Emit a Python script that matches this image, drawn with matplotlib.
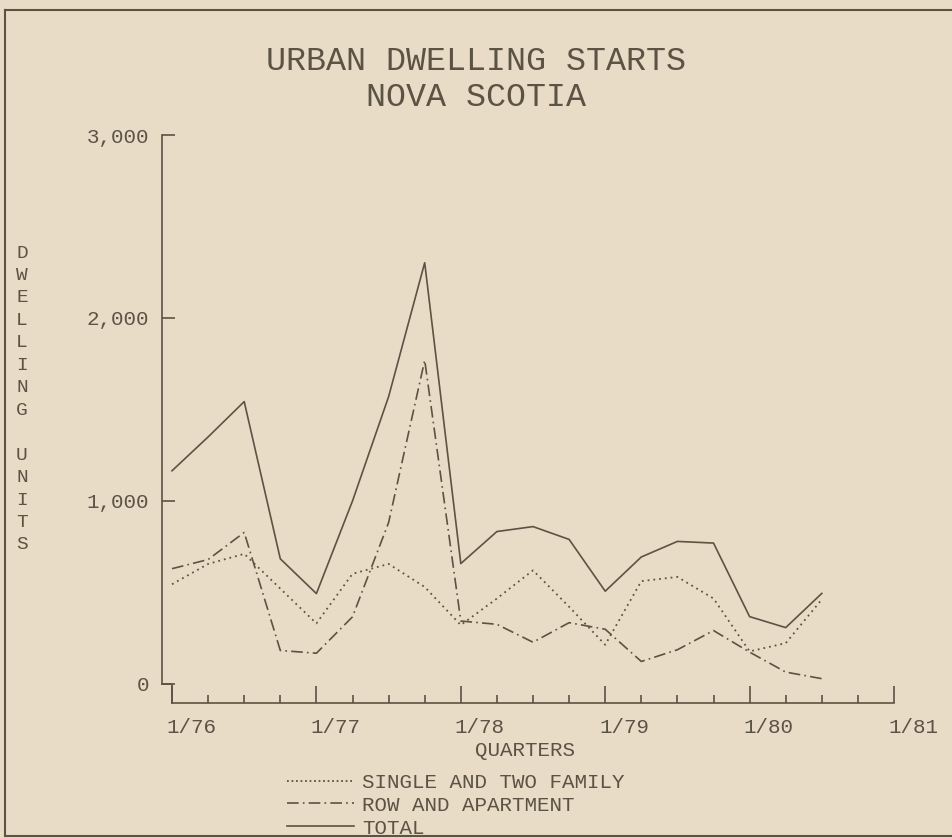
import matplotlib.pyplot as plt
from matplotlib.ticker import FixedLocator, MultipleLocator
from matplotlib.lines import Line2D
from matplotlib.transforms import ScaledTranslation

# Urban dwelling starts, Nova Scotia, quarterly 1/76 .. 7/80
quarters = list(range(19))
single = [545, 656, 711, 521, 331, 602, 656, 530, 322, 467, 621, 422, 214, 562, 585, 467, 178, 223, 462]
row_apt = [630, 680, 828, 183, 168, 367, 882, 1769, 344, 326, 228, 335, 299, 123, 187, 292, 174, 65, 29]
total = [1165, 1350, 1543, 684, 494, 1000, 1570, 2302, 658, 833, 860, 790, 507, 694, 779, 770, 368, 308, 495]

year_ticks = [0, 4, 8, 12, 16, 20]
year_labels = ["1/76", "1/77", "1/78", "1/79", "1/80", "1/81"]
y_ticks = [0, 1000, 2000, 3000]
y_labels = ["0", "1,000", "2,000", "3,000"]

ink = "#5b5343"
paper = "#e9dcc6"
font = "Liberation Mono"

W, H = 953, 838
fig = plt.figure(figsize=(W / 100, H / 100), dpi=100, facecolor=paper)

# axes placed in pixels: y axis at x=162, x axis at y=703, 3,000 at y=135
ax = fig.add_axes([162 / W, 1 - 703 / H, (896 - 162) / W, (703 - 135) / H])
ax.set_facecolor(paper)
ax.set_xlim(-0.277, 20.055)
ax.set_ylim(-104, 3000)

ax.plot(quarters, single, color=ink, lw=1.3, linestyle=(0, (1, 2.2)))
ax.plot(quarters, row_apt, color=ink, lw=1.2, linestyle=(0, (7, 2.5, 1, 2.5)))
ax.plot(quarters, total, color=ink, lw=1.2, linestyle="-")

for s in ["top", "right"]:
    ax.spines[s].set_visible(False)
ax.spines["left"].set_bounds(0, 3000)
ax.spines["bottom"].set_bounds(0, 20)
for s in ["left", "bottom"]:
    ax.spines[s].set_color(ink)
    ax.spines[s].set_linewidth(1.2)

# little step joining the two axes, as on the plotter
ax.plot([-0.277, 0, 0], [0, 0, -104], color=ink, lw=1.2, clip_on=False)

ax.yaxis.set_major_locator(FixedLocator(y_ticks))
ax.set_yticklabels(y_labels, fontfamily=font, fontsize=15, color=ink)
ax.tick_params(axis="y", direction="in", length=9.5, width=1.2, color=ink, pad=9.5)

ax.xaxis.set_major_locator(FixedLocator(year_ticks))
ax.xaxis.set_minor_locator(MultipleLocator(1))
ax.set_xticklabels(year_labels, fontfamily=font, fontsize=15, color=ink, ha="left")
ax.tick_params(axis="x", which="major", direction="in", length=12, width=1.2, color=ink, pad=11)
ax.tick_params(axis="x", which="minor", direction="in", length=6, width=1.2, color=ink)
shift = ScaledTranslation(-6 / 100, 0, fig.dpi_scale_trans)
for lab in ax.get_xticklabels():
    lab.set_transform(lab.get_transform() + shift)

# titles and labels
fig.text(476 / W, 1 - 62 / H, "URBAN DWELLING STARTS", ha="center", va="center",
         fontfamily=font, fontsize=24, color=ink)
fig.text(476 / W, 1 - 97 / H, "NOVA SCOTIA", ha="center", va="center",
         fontfamily=font, fontsize=24, color=ink)
fig.text(22 / W, 1 - 399 / H, "\n".join("DWELLING UNITS"), ha="center", va="center",
         fontfamily=font, fontsize=14, color=ink, linespacing=1.42)
fig.text(525 / W, 1 - 750 / H, "QUARTERS", ha="center", va="center",
         fontfamily=font, fontsize=15, color=ink)

handles = [
    Line2D([], [], color=ink, lw=1.3, linestyle=(0, (1, 1.5))),
    Line2D([], [], color=ink, lw=1.2, linestyle=(0, (7, 2.5, 1, 2.5))),
    Line2D([], [], color=ink, lw=1.2, linestyle="-"),
]
labels = ["SINGLE AND TWO FAMILY", "ROW AND APARTMENT", "TOTAL"]
fig.legend(handles, labels, loc="upper left", bbox_to_anchor=(287 / W, 1 - 773 / H),
           frameon=False, borderpad=0, borderaxespad=0, handlelength=3.2,
           handletextpad=0.4, labelspacing=0.18,
           prop={"family": font, "size": 15}, labelcolor=ink)

# page border
fig.add_artist(Line2D([5 / W, 5 / W], [1 - 836 / H, 1 - 10 / H], color=ink, lw=1.5))
fig.add_artist(Line2D([5 / W, 1], [1 - 10 / H, 1 - 10 / H], color=ink, lw=1.5))
fig.add_artist(Line2D([5 / W, 1], [1 - 836 / H, 1 - 836 / H], color=ink, lw=1.5))

fig.savefig("out.png", dpi=100, facecolor=paper)
